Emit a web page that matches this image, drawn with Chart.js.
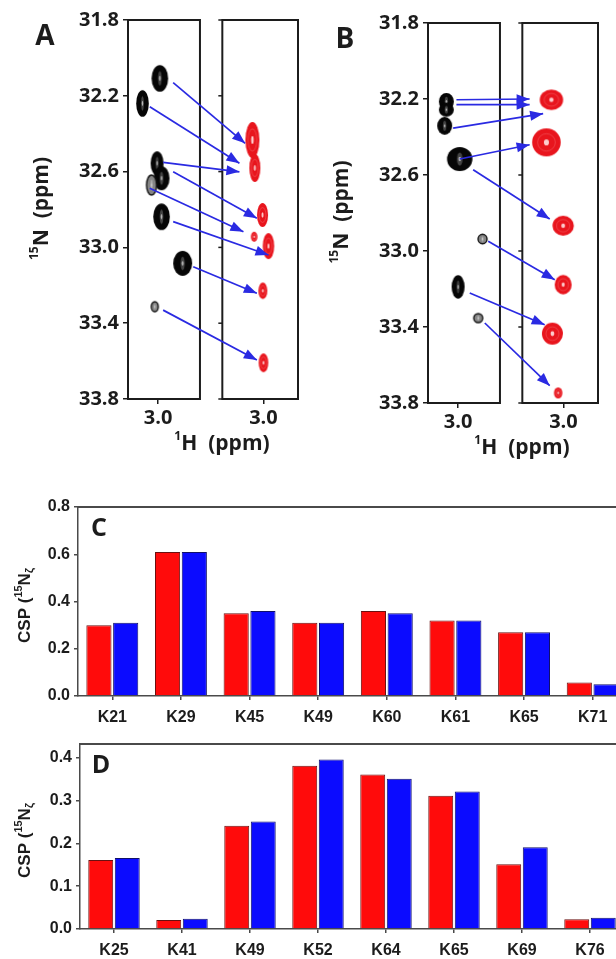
<!DOCTYPE html>
<html>
<head>
<meta charset="utf-8">
<script src="https://cdn.jsdelivr.net/npm/chart.js@4.4.1/dist/chart.umd.min.js"></script>
<style>
    html, body { margin: 0; padding: 0; background: #fff; overflow: hidden; width: 616px; height: 959px; }
    .panel { position: absolute; }
</style>
</head>
<body>
<div class="panel" style="left:0;top:0;"><canvas id="specA" width="306" height="470"></canvas></div>
<div class="panel" style="left:300px;top:3px;"><canvas id="specB" width="316" height="471"></canvas></div>
<div class="panel" style="left:0;top:490px;"><canvas id="cspC" width="640" height="240"></canvas></div>
<div class="panel" style="left:0;top:730px;"><canvas id="cspD" width="640" height="229"></canvas></div>
<script>
// ---- data: spectra (ppm) ----
const ticksN = [31.8, 32.2, 32.6, 33.0, 33.4, 33.8];
const ticksH = [3.0];

// panel A, free (black) and bound (red) peaks
const aFreeH = [2.9971, 3.0261, 3.0017, 2.9943, 3.0110, 2.9943, 2.9591, 3.0055];
const aFreeN = [32.108, 32.240, 32.556, 32.635, 32.671, 32.838, 33.084, 33.313];
const aBoundH = [3.0184, 3.0144, 3.0016, 3.0155, 2.9916, 3.0010, 3.0000];
const aBoundN = [32.433, 32.581, 32.829, 32.944, 32.993, 33.229, 33.609];
const aFromH = [2.9749, 3.0139, 2.9916, 2.9749, 3.0139, 2.9749, 2.9414, 2.9916];
const aFromN = [32.131, 32.258, 32.551, 32.601, 32.688, 32.864, 33.102, 33.331];
const aToH = [3.0306, 3.0401, 3.0401, 3.0110, 3.0334, 2.9916, 3.0110, 3.0110];
const aToN = [32.451, 32.556, 32.601, 32.846, 32.917, 33.040, 33.242, 33.594];

// panel B
const bFreeH = [3.0196, 3.0196, 3.0224, 2.9973, 2.9593, 3.0000, 2.9665];
const bFreeN = [32.213, 32.256, 32.341, 32.516, 32.937, 33.189, 33.353];
const bBoundH = [3.0201, 3.0284, 3.0005, 3.0005, 3.0184, 3.0088];
const bBoundN = [32.204, 32.428, 32.867, 33.177, 33.435, 33.747];
const bFromH = [3.0028, 3.0028, 3.0083, 2.9973, 2.9749, 2.9498, 2.9806, 2.9555];
const bFromN = [32.204, 32.230, 32.353, 32.516, 32.572, 32.949, 33.221, 33.379];
const bToH = [3.0564, 3.0564, 3.0339, 3.0564, 3.0229, 3.0145, 3.0313, 3.0229];
const bToN = [32.200, 32.230, 32.277, 32.441, 32.832, 33.151, 33.388, 33.709];

// ---- data: CSP bars ----
const labelsC = ['K21', 'K29', 'K45', 'K49', 'K60', 'K61', 'K65', 'K71'];
const cspRedC = [0.30, 0.61, 0.35, 0.31, 0.36, 0.32, 0.27, 0.057];
const cspBlueC = [0.31, 0.61, 0.36, 0.31, 0.35, 0.32, 0.27, 0.050];
const labelsD = ['K25', 'K41', 'K49', 'K52', 'K64', 'K65', 'K69', 'K76'];
const cspRedD = [0.161, 0.021, 0.241, 0.381, 0.361, 0.311, 0.151, 0.023];
const cspBlueD = [0.166, 0.024, 0.251, 0.396, 0.351, 0.321, 0.191, 0.026];

// ---- peak looks (half width, half height in px, tone) ----
const aFreeLook = [[8.3, 13.3, 'dark'], [6.3, 13.3, 'dark'], [6.5, 12, 'dark'], [8, 12, 'dark'],
    [5, 10, 'gray'], [8.3, 13.3, 'dark'], [9.5, 12.5, 'dark'], [3.5, 5, 'gray']];
const aBoundLook = [[7, 18, 'red'], [5.5, 14, 'red'], [5.5, 12, 'red'], [3.3, 5, 'red'],
    [5.7, 13, 'red'], [4.5, 8.3, 'red'], [4.8, 9.5, 'red']];
const bFreeLook = [[7.5, 8.5, 'dark'], [7.5, 7, 'dark'], [7.5, 9, 'dark'], [12.7, 12, 'dark'],
    [4.5, 4.8, 'gray'], [6.5, 11.7, 'dark'], [4.5, 4.5, 'gray']];
const bBoundLook = [[11.7, 10.3, 'red'], [14.3, 14, 'red'], [10.7, 10, 'red'], [8.5, 9.7, 'red'],
    [10.5, 11, 'red'], [4.2, 5.5, 'red']];

// 1H windows of the two boxes and the shift that puts the bound box to the right
const BOX_FREE = [3.0502, 2.9302];
const BOX_BOUND = [3.0686, 2.9424];
const SHIFT = 0.1757;
const ARROW_BLUE = '#2a2ae2';
const INK = '#1c1c1c';
const SPEC_FONT = 'Open Sans';
const BAR_FONT = 'Liberation Sans';

function toAxis(h, side) {
    return side === 'bound' ? h - SHIFT : h;
}

function ellipsePath(g, cx, cy, rx, ry) {
    g.beginPath();
    g.ellipse(cx, cy, rx, ry, 0, 0, 2 * Math.PI);
}

function makePeak(look) {
    const rx = look[0], ry = look[1], tone = look[2];
    const pad = 2;
    const c = document.createElement('canvas');
    c.width = Math.ceil(2 * rx + 2 * pad);
    c.height = Math.ceil(2 * ry + 2 * pad);
    const g = c.getContext('2d');
    const cx = c.width / 2, cy = c.height / 2;

    if (tone === 'red') {
        ellipsePath(g, cx, cy, rx, ry);
        g.fillStyle = '#e8151d';
        g.fill();
        ellipsePath(g, cx, cy, rx * 0.62, ry * 0.62);
        g.lineWidth = 0.5;
        g.strokeStyle = 'rgba(255,170,170,0.55)';
        g.stroke();
        ellipsePath(g, cx, cy, Math.max(rx * 0.18, 0.9), Math.max(ry * 0.22, 1.1));
        g.fillStyle = 'rgba(255,225,225,0.9)';
        g.fill();
        return c;
    }

    ellipsePath(g, cx, cy, rx, ry);
    g.fillStyle = tone === 'gray' ? '#858585' : '#060606';
    g.fill();
    if (tone === 'gray') {
        g.lineWidth = 1.4;
        g.strokeStyle = '#151515';
        g.stroke();
    }
    // faint inner contour streak
    ellipsePath(g, cx, cy, rx * 0.22, ry * 0.55);
    g.fillStyle = tone === 'gray' ? 'rgba(200,200,200,0.6)' : 'rgba(120,120,120,0.55)';
    g.fill();
    ellipsePath(g, cx, cy, Math.max(rx * 0.1, 0.7), Math.max(ry * 0.18, 0.9));
    g.fillStyle = 'rgba(215,215,215,0.8)';
    g.fill();
    return c;
}

// draws text runs (with super/subscripts) centred on x,y
function drawRich(ctx, parts, x, y, angle) {
    ctx.save();
    ctx.translate(x, y);
    ctx.rotate(angle || 0);
    ctx.textBaseline = 'middle';
    ctx.textAlign = 'left';
    let total = 0;
    parts.forEach(function(p) {
        ctx.font = p.font;
        total += ctx.measureText(p.t).width;
    });
    let cur = -total / 2;
    parts.forEach(function(p) {
        ctx.font = p.font;
        ctx.fillStyle = INK;
        ctx.fillText(p.t, cur, p.dy || 0);
        cur += ctx.measureText(p.t).width;
    });
    ctx.restore();
}

const spectrumPlugin = {
    id: 'spectrumFrame',
    beforeDatasetsDraw: function(chart) {
        const ctx = chart.ctx, a = chart.chartArea, x = chart.scales.x, y = chart.scales.y;
        const l1 = x.getPixelForValue(BOX_FREE[0]), r1 = x.getPixelForValue(BOX_FREE[1]);
        const l2 = x.getPixelForValue(toAxis(BOX_BOUND[0], 'bound'));
        const r2 = x.getPixelForValue(toAxis(BOX_BOUND[1], 'bound'));
        ctx.save();
        ctx.strokeStyle = INK;
        ctx.lineWidth = 2;
        ctx.strokeRect(l1, a.top, r1 - l1, a.bottom - a.top);
        ctx.strokeRect(l2, a.top, r2 - l2, a.bottom - a.top);
        // small outward ticks on the bound box
        ctx.lineWidth = 1.5;
        ticksN.forEach(function(v) {
            const py = y.getPixelForValue(v);
            ctx.beginPath();
            ctx.moveTo(l2 - 4, py);
            ctx.lineTo(l2, py);
            ctx.stroke();
        });
        ctx.restore();
    },
    afterDatasetsDraw: function(chart) {
        const ctx = chart.ctx;
        chart.data.datasets.forEach(function(ds, i) {
            if (!ds.arrow) return;
            const pts = chart.getDatasetMeta(i).data;
            const p0 = pts[0], p1 = pts[1];
            const ang = Math.atan2(p1.y - p0.y, p1.x - p0.x);
            const len = 13, half = 5;
            ctx.save();
            ctx.translate(p1.x, p1.y);
            ctx.rotate(ang);
            ctx.beginPath();
            ctx.moveTo(0, 0);
            ctx.lineTo(-len, -half);
            ctx.lineTo(-len, half);
            ctx.closePath();
            ctx.fillStyle = ARROW_BLUE;
            ctx.fill();
            ctx.restore();
        });
    },
    afterDraw: function(chart) {
        const o = chart.options.plugins.spectrumFrame;
        const ctx = chart.ctx, a = chart.chartArea;
        const big = 'bold 21px "' + SPEC_FONT + '"', sup = 'bold 12px "' + SPEC_FONT + '"';
        ctx.save();
        ctx.font = 'bold 28px "' + SPEC_FONT + '"';
        ctx.fillStyle = INK;
        ctx.textAlign = 'center';
        ctx.textBaseline = 'middle';
        ctx.fillText(o.letter, a.left - 83, a.top + 17);
        ctx.restore();
        drawRich(ctx, [{ t: '1', font: sup, dy: -7 }, { t: 'H  (ppm)', font: big }],
            (a.left + a.right) / 2 + 9, a.bottom + 45, 0);
        drawRich(ctx, [{ t: '15', font: sup, dy: -7 }, { t: 'N  (ppm)', font: big }],
            a.left - 86, (a.top + a.bottom) / 2 - 1, -Math.PI / 2);
    }
};

function buildSpectrum(id, s) {
    const datasets = [];

    // arrows from free to bound peaks
    s.fromH.forEach(function(h, i) {
        datasets.push({
            type: 'line',
            arrow: true,
            data: [
                { x: toAxis(h, 'free'), y: s.fromN[i] },
                { x: toAxis(s.toH[i], 'bound'), y: s.toN[i] }
            ],
            borderColor: ARROW_BLUE,
            borderWidth: 1.7,
            pointRadius: 0,
            fill: false,
            order: 0
        });
    });

    datasets.push({
        type: 'scatter',
        data: s.freeH.map(function(h, i) { return { x: toAxis(h, 'free'), y: s.freeN[i] }; }),
        pointStyle: s.freeLook.map(makePeak),
        order: 1
    });
    datasets.push({
        type: 'scatter',
        data: s.boundH.map(function(h, i) { return { x: toAxis(h, 'bound'), y: s.boundN[i] }; }),
        pointStyle: s.boundLook.map(makePeak),
        order: 1
    });

    const tickFont = { family: SPEC_FONT, size: 20, weight: 'bold' };

    return new Chart(document.getElementById(id), {
        type: 'scatter',
        data: { datasets: datasets },
        plugins: [spectrumPlugin],
        options: {
            responsive: false,
            animation: false,
            events: [],
            layout: { padding: { left: 0, top: s.padTop, right: s.padRight, bottom: 0 } },
            plugins: {
                legend: { display: false },
                tooltip: { enabled: false },
                spectrumFrame: { letter: s.letter }
            },
            scales: {
                x: {
                    type: 'linear',
                    reverse: true,
                    min: toAxis(BOX_BOUND[1], 'bound'),
                    max: BOX_FREE[0],
                    afterBuildTicks: function(scale) {
                        scale.ticks = [];
                        ticksH.forEach(function(h) {
                            scale.ticks.push({ value: toAxis(h, 'free') });
                            scale.ticks.push({ value: toAxis(h, 'bound') });
                        });
                    },
                    afterFit: function(scale) { scale.height = s.xHeight; },
                    ticks: {
                        autoSkip: false,
                        maxRotation: 0,
                        padding: 2,
                        color: INK,
                        font: tickFont,
                        callback: function(v) {
                            return (v < BOX_FREE[1] ? v + SHIFT : v).toFixed(1);
                        }
                    },
                    grid: { drawOnChartArea: false, tickLength: 5, color: INK, lineWidth: 1.5 },
                    border: { display: false }
                },
                y: {
                    type: 'linear',
                    reverse: true,
                    min: ticksN[0],
                    max: ticksN[ticksN.length - 1],
                    afterBuildTicks: function(scale) {
                        scale.ticks = ticksN.map(function(v) { return { value: v }; });
                    },
                    afterFit: function(scale) { scale.width = 128; },
                    ticks: {
                        padding: 4,
                        color: INK,
                        font: tickFont,
                        callback: function(v) { return v.toFixed(1); }
                    },
                    grid: { drawOnChartArea: false, tickLength: 5, color: INK, lineWidth: 1.5 },
                    border: { display: false }
                }
            }
        }
    });
}

const cspPlugin = {
    id: 'cspFrame',
    afterDraw: function(chart) {
        const o = chart.options.plugins.cspFrame;
        const ctx = chart.ctx, a = chart.chartArea;
        ctx.save();
        ctx.strokeStyle = '#4a4a4a';
        ctx.lineWidth = 2;
        ctx.beginPath();
        ctx.moveTo(a.left, a.top);
        ctx.lineTo(a.right, a.top);
        ctx.lineTo(a.right, a.bottom);
        ctx.stroke();
        ctx.font = 'bold 25px "' + SPEC_FONT + '"';
        ctx.fillStyle = INK;
        ctx.textAlign = 'center';
        ctx.textBaseline = 'middle';
        ctx.fillText(o.letter, a.left + 21, a.top + 22);
        ctx.restore();

        const big = 'bold 17px "' + BAR_FONT + '"', small = 'bold 11px "' + BAR_FONT + '"';
        drawRich(ctx, [
            { t: 'CSP (', font: big },
            { t: '15', font: small, dy: -6 },
            { t: 'N', font: big },
            { t: '\u03B6', font: small, dy: 5 }
        ], 25, (a.top + a.bottom) / 2 + 4, -Math.PI / 2);
    }
};

function buildCsp(id, c) {
    const tickFont = { family: BAR_FONT, size: 16, weight: 'bold' };
    return new Chart(document.getElementById(id), {
        type: 'bar',
        data: {
            labels: c.labels,
            datasets: [
                {
                    data: c.red,
                    backgroundColor: '#ff0b0b',
                    borderColor: '#6a1010',
                    borderWidth: 1,
                    categoryPercentage: 0.78,
                    barPercentage: 0.94
                },
                {
                    data: c.blue,
                    backgroundColor: '#0b0bff',
                    borderColor: '#10106a',
                    borderWidth: 1,
                    categoryPercentage: 0.78,
                    barPercentage: 0.94
                }
            ]
        },
        plugins: [cspPlugin],
        options: {
            responsive: false,
            animation: false,
            events: [],
            layout: { padding: { left: 0, top: c.padTop, right: c.padRight, bottom: 0 } },
            plugins: {
                legend: { display: false },
                tooltip: { enabled: false },
                cspFrame: { letter: c.letter }
            },
            scales: {
                x: {
                    afterFit: function(scale) { scale.height = c.xHeight; },
                    ticks: { autoSkip: false, maxRotation: 0, padding: 8, color: INK, font: tickFont },
                    grid: { drawOnChartArea: false, offset: false, tickLength: 4, color: '#4a4a4a', lineWidth: 1.5 },
                    border: { display: true, color: '#4a4a4a', width: 1.5 }
                },
                y: {
                    min: 0,
                    max: c.max,
                    afterFit: function(scale) { scale.width = c.yWidth; },
                    ticks: {
                        stepSize: c.step,
                        includeBounds: false,
                        padding: 4,
                        color: INK,
                        font: tickFont,
                        callback: function(v) { return v.toFixed(1); }
                    },
                    grid: { drawOnChartArea: false, tickLength: 4, color: '#4a4a4a', lineWidth: 1.5 },
                    border: { display: true, color: '#4a4a4a', width: 1.5 }
                }
            }
        }
    });
}

buildSpectrum('specA', {
    letter: 'A', padTop: 20, padRight: 8, xHeight: 71,
    freeH: aFreeH, freeN: aFreeN, freeLook: aFreeLook,
    boundH: aBoundH, boundN: aBoundN, boundLook: aBoundLook,
    fromH: aFromH, fromN: aFromN, toH: aToH, toN: aToN
});
buildSpectrum('specB', {
    letter: 'B', padTop: 20, padRight: 18, xHeight: 71,
    freeH: bFreeH, freeN: bFreeN, freeLook: bFreeLook,
    boundH: bBoundH, boundN: bBoundN, boundLook: bBoundLook,
    fromH: bFromH, fromN: bFromN, toH: bToH, toN: bToN
});
buildCsp('cspC', {
    letter: 'C', labels: labelsC, red: cspRedC, blue: cspBlueC,
    max: 0.8, step: 0.2, yWidth: 78, padTop: 17, padRight: 13, xHeight: 34
});
buildCsp('cspD', {
    letter: 'D', labels: labelsD, red: cspRedD, blue: cspBlueD,
    max: 0.432, step: 0.1, yWidth: 80, padTop: 14, padRight: 16, xHeight: 30
});
</script>
</body>
</html>
